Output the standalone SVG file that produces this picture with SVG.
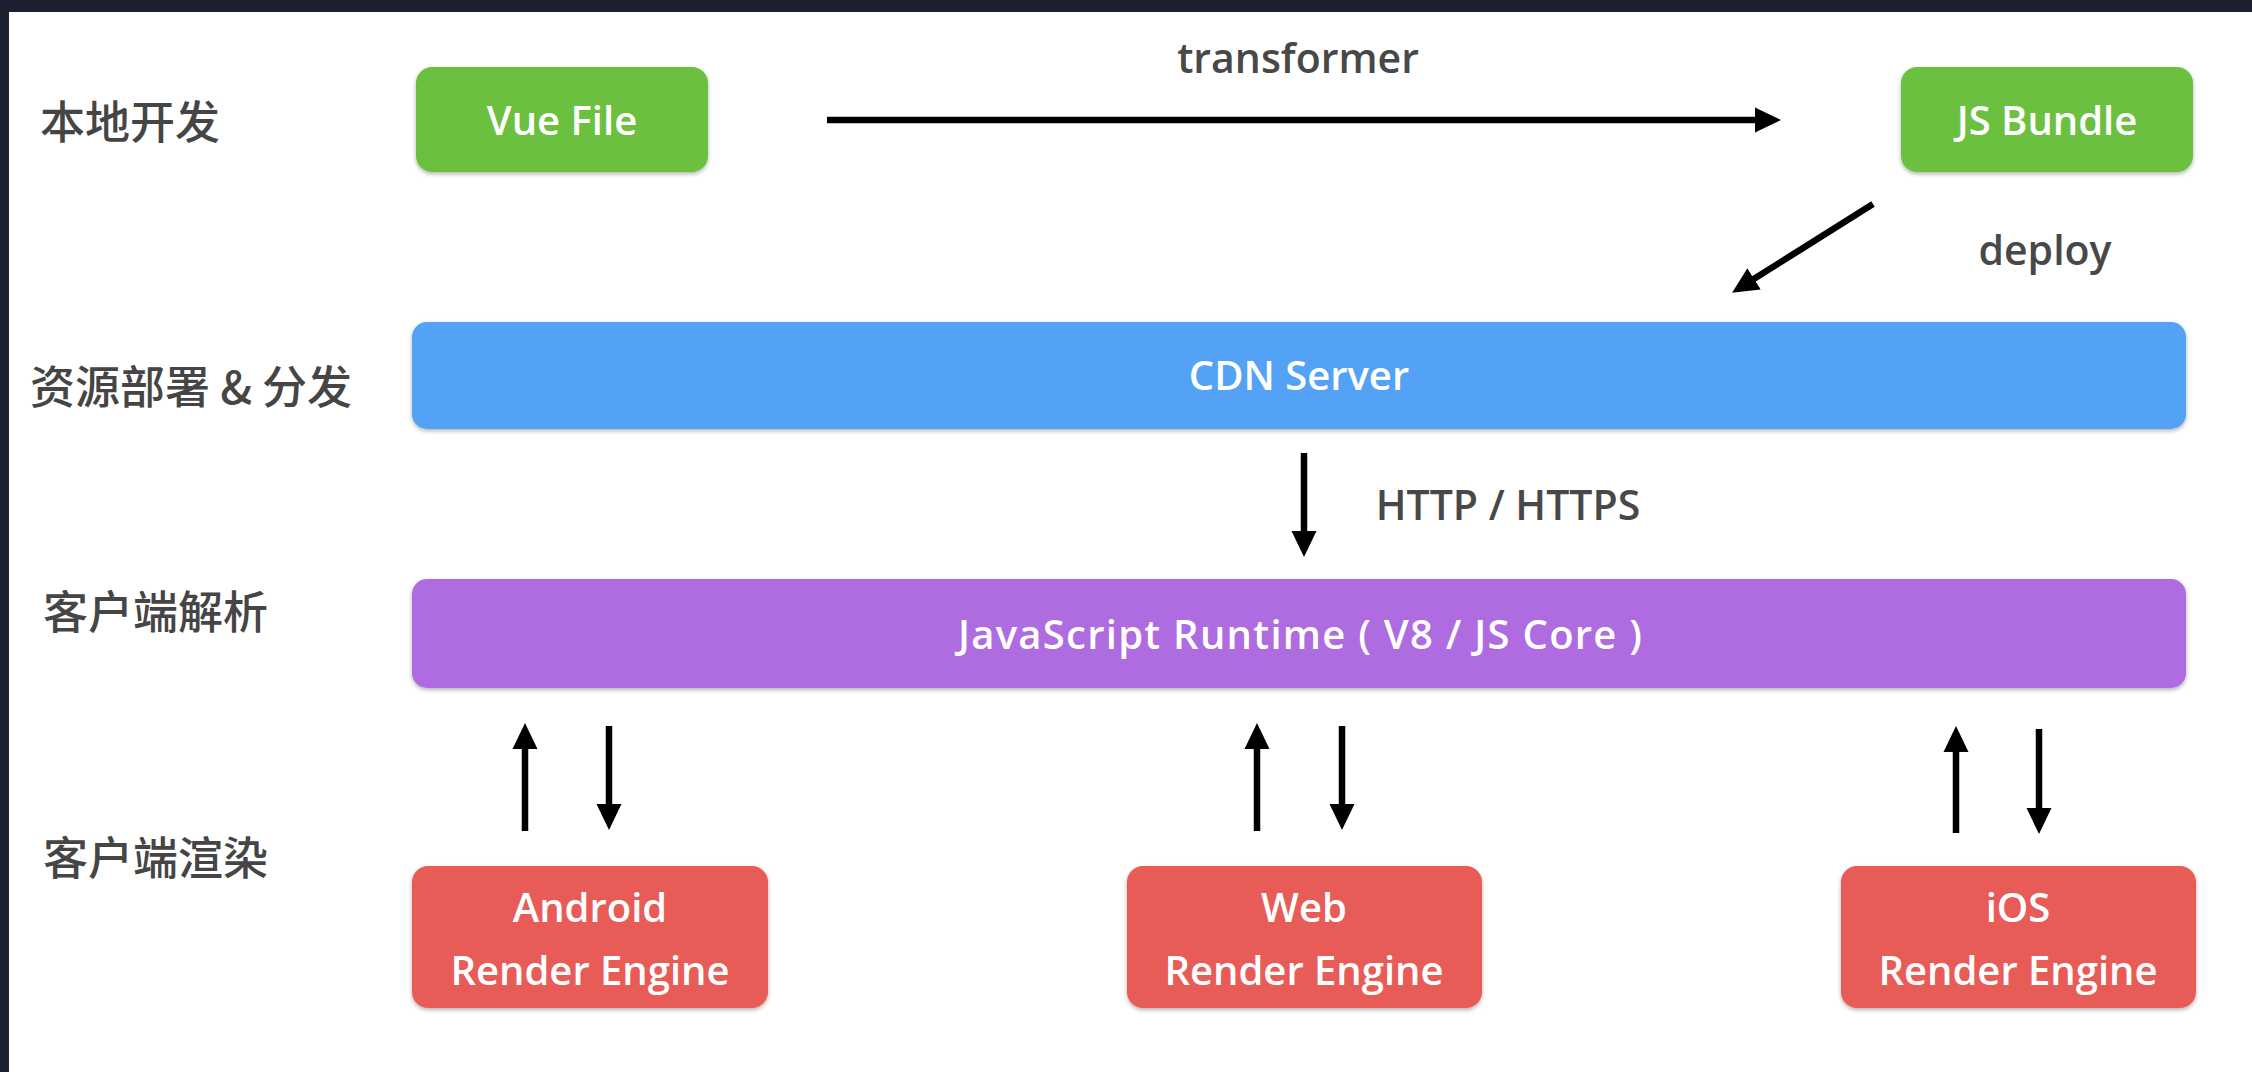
<svg xmlns="http://www.w3.org/2000/svg" width="2252" height="1072" viewBox="0 0 2252 1072">
<defs>
<style>
.lbl{font-family:"Noto Sans CJK SC","Noto Sans",sans-serif;font-size:45px;font-weight:500;fill:#454545}
.note{font-family:"Open Sans","Noto Sans",sans-serif;font-size:41px;font-weight:600;fill:#484848;text-anchor:middle}
.bt{font-family:"Open Sans","Noto Sans",sans-serif;font-size:40px;font-weight:600;fill:#ffffff;text-anchor:middle}
.green{fill:#6cc040}
.blue{fill:#52a2f5}
.purple{fill:#ae6ce0}
.red{fill:#e85b58}
.conn{stroke:#000;stroke-width:6.5;fill:none}
</style>
<filter id="sh" x="-5%" y="-10%" width="110%" height="130%">
<feDropShadow dx="0" dy="2" stdDeviation="2" flood-color="#000" flood-opacity="0.3"/>
</filter>
<marker id="ah" markerUnits="userSpaceOnUse" markerWidth="26" markerHeight="26" viewBox="0 0 26 26" refX="6" refY="13" orient="auto">
<path d="M0,0.5 L26,13 L0,25.5 z" fill="#000"/>
</marker>
</defs>
<rect x="0" y="0" width="2252" height="1072" fill="#1c2030"/>
<rect x="9" y="12" width="2243" height="1060" fill="#ffffff"/>

<g id="labels">
<text class="lbl" x="40" y="139">本地开发</text>
<text class="lbl" x="30" y="404">资源部署 &amp; 分发</text>
<text class="lbl" x="43" y="629">客户端解析</text>
<text class="lbl" x="43" y="875">客户端渲染</text>
</g>

<g id="connectors">
<line class="conn" x1="827" y1="120" x2="1761" y2="120" marker-end="url(#ah)"/>
<line class="conn" x1="1873" y1="204" x2="1749" y2="282" marker-end="url(#ah)"/>
<line class="conn" x1="1304" y1="453" x2="1304" y2="537" marker-end="url(#ah)"/>
<line class="conn" x1="525" y1="831" x2="525" y2="743" marker-end="url(#ah)"/>
<line class="conn" x1="609" y1="726" x2="609" y2="810" marker-end="url(#ah)"/>
<line class="conn" x1="1257" y1="831" x2="1257" y2="743" marker-end="url(#ah)"/>
<line class="conn" x1="1342" y1="726" x2="1342" y2="810" marker-end="url(#ah)"/>
<line class="conn" x1="1956" y1="833" x2="1956" y2="746" marker-end="url(#ah)"/>
<line class="conn" x1="2039" y1="729" x2="2039" y2="814" marker-end="url(#ah)"/>
<text class="note" x="1298" y="73" font-size="42">transformer</text>
<text class="note" x="2045" y="265">deploy</text>
<text class="note" x="1508" y="520" font-size="42">HTTP / HTTPS</text>
</g>

<g id="vue-file">
<rect class="green" x="416" y="67" width="292" height="105" rx="16" filter="url(#sh)"/>
<text class="bt" x="562" y="135">Vue File</text>
</g>
<g id="js-bundle">
<rect class="green" x="1901" y="67" width="292" height="105" rx="16" filter="url(#sh)"/>
<text class="bt" x="2047" y="135">JS Bundle</text>
</g>
<g id="cdn-server">
<rect class="blue" x="412" y="322" width="1774" height="107" rx="15" filter="url(#sh)"/>
<text class="bt" x="1299" y="390">CDN Server</text>
</g>
<g id="js-runtime">
<rect class="purple" x="412" y="579" width="1774" height="109" rx="15" filter="url(#sh)"/>
<text class="bt" x="1300" y="649" textLength="684" lengthAdjust="spacing">JavaScript Runtime ( V8 / JS Core )</text>
</g>
<g id="android-engine">
<rect class="red" x="412" y="866" width="356" height="142" rx="16" filter="url(#sh)"/>
<text class="bt" x="590" y="922">Android</text>
<text class="bt" x="590" y="985">Render Engine</text>
</g>
<g id="web-engine">
<rect class="red" x="1127" y="866" width="355" height="142" rx="16" filter="url(#sh)"/>
<text class="bt" x="1304" y="922">Web</text>
<text class="bt" x="1304" y="985">Render Engine</text>
</g>
<g id="ios-engine">
<rect class="red" x="1841" y="866" width="355" height="142" rx="16" filter="url(#sh)"/>
<text class="bt" x="2018" y="922">iOS</text>
<text class="bt" x="2018" y="985">Render Engine</text>
</g>
</svg>
